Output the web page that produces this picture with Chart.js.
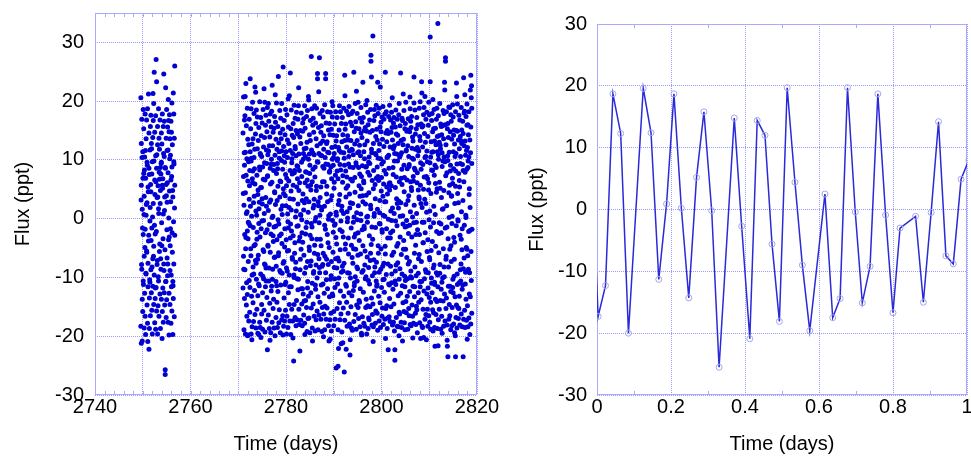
<!DOCTYPE html>
<html>
<head>
<meta charset="utf-8">
<script src="https://cdn.jsdelivr.net/npm/chart.js@4.4.0/dist/chart.umd.min.js"></script>
<style>
  body { margin: 0; background: #fff; }
  #wrap { position: relative; width: 971px; height: 457px; overflow: hidden; }
  canvas { position: absolute; top: 0; }
  #lightCurve { left: 0; }
  #dayCurve { left: 510px; }
</style>
</head>
<body>
<div id="wrap">
  <canvas id="lightCurve" width="510" height="457"></canvas>
  <canvas id="dayCurve" width="461" height="457"></canvas>
</div>
<script>
// first run (left panel, first block of points)
const timeA = [
  2749.6,2749.6,2749.7,2749.7,2749.7,2749.8,2749.8,2749.9,2749.9,2749.9,
  2750,2750,2750.1,2750.1,2750.1,2750.2,2750.2,2750.3,2750.3,2750.3,
  2750.4,2750.4,2750.5,2750.5,2750.5,2750.6,2750.6,2750.7,2750.7,2750.7,
  2750.8,2750.8,2750.9,2750.9,2750.9,2751,2751,2751.1,2751.1,2751.1,
  2751.2,2751.2,2751.3,2751.3,2751.3,2751.4,2751.4,2751.5,2751.5,2751.5,
  2751.6,2751.6,2751.7,2751.7,2751.7,2751.8,2751.8,2751.9,2751.9,2751.9,
  2752,2752,2752.1,2752.1,2752.1,2752.2,2752.2,2752.3,2752.3,2752.3,
  2752.4,2752.4,2752.5,2752.5,2752.5,2752.6,2752.6,2752.7,2752.7,2752.7,
  2752.8,2752.8,2752.9,2752.9,2752.9,2753,2753,2753.1,2753.1,2753.1,
  2753.2,2753.2,2753.3,2753.3,2753.3,2753.4,2753.4,2753.5,2753.5,2753.5,
  2753.6,2753.6,2753.7,2753.7,2753.7,2753.8,2753.8,2753.9,2753.9,2753.9,
  2754,2754,2754.1,2754.1,2754.1,2754.2,2754.2,2754.3,2754.3,2754.3,
  2754.4,2754.4,2754.5,2754.5,2754.5,2754.6,2754.6,2754.7,2754.7,2754.7,
  2754.8,2754.8,2754.9,2754.9,2754.9,2755,2755,2755.1,2755.1,2755.1,
  2755.2,2755.2,2755.3,2755.3,2755.3,2755.4,2755.4,2755.5,2755.5,2755.5,
  2755.6,2755.6,2755.7,2755.7,2755.7,2755.8,2755.8,2755.9,2755.9,2755.9,
  2756,2756,2756.1,2756.1,2756.1,2756.2,2756.2,2756.3,2756.3,2756.3,
  2756.4,2756.4,2756.5,2756.5,2756.5,2756.6,2756.6,2756.7,2756.7,2756.7
];
const fluxA = [
  20.6,-18.3,5.7,-21.2,12.8,-8.6,16.9,-20.8,1.6,-13.7,
  11.4,-15.8,18.6,-2.7,-10.6,7.7,15.3,-18.6,-6.4,3.8,
  -12.7,10.5,17.8,-16.6,-1.8,6.9,-19.7,13.6,-9.4,0.6,
  16.8,-5.5,-14.7,9.6,2.7,-17.8,18.7,-11.6,5.4,-7.6,
  -3.8,21.2,-22.2,14.6,8.6,-13.5,-18.7,11.7,-0.4,-10.8,
  15.7,-16.5,4.6,-8.7,17.6,-12.6,12.8,-1.6,-15.6,7.6,
  -19.6,9.7,13.8,-6.8,-11.5,16.7,2.6,-14.6,19.6,-4.7,
  24.9,-9.6,-17.7,6.6,14.7,-2.6,-13.6,10.7,17.5,-18.8,
  27.1,-11.7,23.3,8.6,-15.7,3.6,-7.8,15.7,-19.6,12.6,
  5.6,-14.8,18.7,-10.6,1.7,13.7,-16.6,-5.6,11.8,6.7,
  -12.8,16.8,8.7,-18.7,4.8,7.6,-8.6,14.6,-13.7,9.6,
  12.7,-4.6,-15.8,5.7,17.8,-11.8,6.8,-17.6,0.8,15.7,
  24.6,-7.7,10.6,-12.6,16.6,-14.7,3.7,-25.7,-26.5,8.7,
  22.3,-10.7,13.7,-16.8,5.8,18.6,-13.8,2.8,-6.7,11.6,
  -9.7,15.6,-17.6,7.8,11.7,-3.6,16.7,-12.7,14.8,-19.8,
  4.7,17.7,-8.8,13.6,-14.6,10.8,-1.7,6.6,-17.8,16.6,
  -11.6,14.7,8.8,-15.7,19.7,-5.7,12.6,-10.7,-19.7,3.7,
  21.4,-13.6,9.7,17.8,-7.7,13.7,-16.7,26.0,5.7,-2.8
];
// first run, in-between samples
const timeA2 = [
  2749.65,2749.75,2749.85,2749.95,2750.05,2750.15,2750.25,2750.35,2750.45,2750.55,
  2750.65,2750.75,2750.85,2750.95,2751.05,2751.15,2751.25,2751.35,2751.45,2751.55,
  2751.65,2751.75,2751.85,2751.95,2752.05,2752.15,2752.25,2752.35,2752.45,2752.55,
  2752.65,2752.75,2752.85,2752.95,2753.05,2753.15,2753.25,2753.35,2753.45,2753.55,
  2753.65,2753.75,2753.85,2753.95,2754.05,2754.15,2754.25,2754.35,2754.45,2754.55,
  2754.65,2754.75,2754.85,2754.95,2755.05,2755.15,2755.25,2755.35,2755.45,2755.55,
  2755.65,2755.75,2755.85,2755.95,2756.05,2756.15,2756.25,2756.35,2756.45,2756.55,
  2756.65
];
const fluxA2 = [
  3.2,-7.8,10.4,-1.6,6.9,-11.2,0.7,8.3,-4.9,11.6,
  -9.3,2.4,-5.7,9.1,-20.9,4.6,-2.8,7.5,-10.4,1.9,
  5.8,-3.7,11.9,-8.2,0.3,21.3,-6.4,9.8,-1.1,4.1,
  -11.8,6.3,-2.2,10.9,-7.1,3.7,-9.9,0.9,7.9,-4.3,
  2.6,-6.8,9.4,-0.7,-20.4,5.2,-3.4,11.1,-8.8,1.4,
  -5.3,8.6,-10.7,3.9,-1.9,6.1,-7.7,20.3,0.1,-3.1,
  10.2,-4.6,2.9,-9.6,7.2,-2.4,4.8,-11.4,-0.5,9.3,
  1.8
];

// second run (left panel, main block of points)
const timeB = [
  2771,2771,2771.1,2771.1,2771.1,2771.2,2771.2,2771.3,2771.3,2771.3,
  2771.4,2771.4,2771.5,2771.5,2771.5,2771.6,2771.6,2771.7,2771.7,2771.7,
  2771.8,2771.8,2771.9,2771.9,2771.9,2772,2772,2772.1,2772.1,2772.1,
  2772.2,2772.2,2772.3,2772.3,2772.3,2772.4,2772.4,2772.5,2772.5,2772.5,
  2772.6,2772.6,2772.7,2772.7,2772.7,2772.8,2772.8,2772.9,2772.9,2772.9,
  2773,2773,2773.1,2773.1,2773.1,2773.2,2773.2,2773.3,2773.3,2773.3,
  2773.4,2773.4,2773.5,2773.5,2773.5,2773.6,2773.6,2773.7,2773.7,2773.7,
  2773.8,2773.8,2773.9,2773.9,2773.9,2774,2774,2774.1,2774.1,2774.1,
  2774.2,2774.2,2774.3,2774.3,2774.3,2774.4,2774.4,2774.5,2774.5,2774.5,
  2774.6,2774.6,2774.7,2774.7,2774.7,2774.8,2774.8,2774.9,2774.9,2774.9,
  2775,2775,2775.1,2775.1,2775.1,2775.2,2775.2,2775.3,2775.3,2775.3,
  2775.4,2775.4,2775.5,2775.5,2775.5,2775.6,2775.6,2775.7,2775.7,2775.7,
  2775.8,2775.8,2775.9,2775.9,2775.9,2776,2776,2776.1,2776.1,2776.1,
  2776.2,2776.2,2776.3,2776.3,2776.3,2776.4,2776.4,2776.5,2776.5,2776.5,
  2776.6,2776.6,2776.7,2776.7,2776.7,2776.8,2776.8,2776.9,2776.9,2776.9,
  2777,2777,2777.1,2777.1,2777.1,2777.2,2777.2,2777.3,2777.3,2777.3,
  2777.4,2777.4,2777.5,2777.5,2777.5,2777.6,2777.6,2777.7,2777.7,2777.7,
  2777.8,2777.8,2777.9,2777.9,2777.9,2778,2778,2778.1,2778.1,2778.1,
  2778.2,2778.2,2778.3,2778.3,2778.3,2778.4,2778.4,2778.5,2778.5,2778.5,
  2778.6,2778.6,2778.7,2778.7,2778.7,2778.8,2778.8,2778.9,2778.9,2778.9,
  2779,2779,2779.1,2779.1,2779.1,2779.2,2779.2,2779.3,2779.3,2779.3,
  2779.4,2779.4,2779.5,2779.5,2779.5,2779.6,2779.6,2779.7,2779.7,2779.7,
  2779.8,2779.8,2779.9,2779.9,2779.9,2780,2780,2780.1,2780.1,2780.1,
  2780.2,2780.2,2780.3,2780.3,2780.3,2780.4,2780.4,2780.5,2780.5,2780.5,
  2780.6,2780.6,2780.7,2780.7,2780.7,2780.8,2780.8,2780.9,2780.9,2780.9,
  2781,2781,2781.1,2781.1,2781.1,2781.2,2781.2,2781.3,2781.3,2781.3,
  2781.4,2781.4,2781.5,2781.5,2781.5,2781.6,2781.6,2781.7,2781.7,2781.7,
  2781.8,2781.8,2781.9,2781.9,2781.9,2782,2782,2782.1,2782.1,2782.1,
  2782.2,2782.2,2782.3,2782.3,2782.3,2782.4,2782.4,2782.5,2782.5,2782.5,
  2782.6,2782.6,2782.7,2782.7,2782.7,2782.8,2782.8,2782.9,2782.9,2782.9,
  2783,2783,2783.1,2783.1,2783.1,2783.2,2783.2,2783.3,2783.3,2783.3,
  2783.4,2783.4,2783.5,2783.5,2783.5,2783.6,2783.6,2783.7,2783.7,2783.7,
  2783.8,2783.8,2783.9,2783.9,2783.9,2784,2784,2784.1,2784.1,2784.1,
  2784.2,2784.2,2784.3,2784.3,2784.3,2784.4,2784.4,2784.5,2784.5,2784.5,
  2784.6,2784.6,2784.7,2784.7,2784.7,2784.8,2784.8,2784.9,2784.9,2784.9,
  2785,2785,2785.1,2785.1,2785.1,2785.2,2785.2,2785.3,2785.3,2785.3,
  2785.4,2785.4,2785.5,2785.5,2785.5,2785.6,2785.6,2785.7,2785.7,2785.7,
  2785.8,2785.8,2785.9,2785.9,2785.9,2786,2786,2786.1,2786.1,2786.1,
  2786.2,2786.2,2786.3,2786.3,2786.3,2786.4,2786.4,2786.5,2786.5,2786.5,
  2786.6,2786.6,2786.7,2786.7,2786.7,2786.8,2786.8,2786.9,2786.9,2786.9,
  2787,2787,2787.1,2787.1,2787.1,2787.2,2787.2,2787.3,2787.3,2787.3,
  2787.4,2787.4,2787.5,2787.5,2787.5,2787.6,2787.6,2787.7,2787.7,2787.7,
  2787.8,2787.8,2787.9,2787.9,2787.9,2788,2788,2788.1,2788.1,2788.1,
  2788.2,2788.2,2788.3,2788.3,2788.3,2788.4,2788.4,2788.5,2788.5,2788.5,
  2788.6,2788.6,2788.7,2788.7,2788.7,2788.8,2788.8,2788.9,2788.9,2788.9,
  2789,2789,2789.1,2789.1,2789.1,2789.2,2789.2,2789.3,2789.3,2789.3,
  2789.4,2789.4,2789.5,2789.5,2789.5,2789.6,2789.6,2789.7,2789.7,2789.7,
  2789.8,2789.8,2789.9,2789.9,2789.9,2790,2790,2790.1,2790.1,2790.1,
  2790.2,2790.2,2790.3,2790.3,2790.3,2790.4,2790.4,2790.5,2790.5,2790.5,
  2790.6,2790.6,2790.7,2790.7,2790.7,2790.8,2790.8,2790.9,2790.9,2790.9,
  2791,2791,2791.1,2791.1,2791.1,2791.2,2791.2,2791.3,2791.3,2791.3,
  2791.4,2791.4,2791.5,2791.5,2791.5,2791.6,2791.6,2791.7,2791.7,2791.7,
  2791.8,2791.8,2791.9,2791.9,2791.9,2792,2792,2792.1,2792.1,2792.1,
  2792.2,2792.2,2792.3,2792.3,2792.3,2792.4,2792.4,2792.5,2792.5,2792.5,
  2792.6,2792.6,2792.7,2792.7,2792.7,2792.8,2792.8,2792.9,2792.9,2792.9,
  2793,2793,2793.1,2793.1,2793.1,2793.2,2793.2,2793.3,2793.3,2793.3,
  2793.4,2793.4,2793.5,2793.5,2793.5,2793.6,2793.6,2793.7,2793.7,2793.7,
  2793.8,2793.8,2793.9,2793.9,2793.9,2794,2794,2794.1,2794.1,2794.1,
  2794.2,2794.2,2794.3,2794.3,2794.3,2794.4,2794.4,2794.5,2794.5,2794.5,
  2794.6,2794.6,2794.7,2794.7,2794.7,2794.8,2794.8,2794.9,2794.9,2794.9,
  2795,2795,2795.1,2795.1,2795.1,2795.2,2795.2,2795.3,2795.3,2795.3,
  2795.4,2795.4,2795.5,2795.5,2795.5,2795.6,2795.6,2795.7,2795.7,2795.7,
  2795.8,2795.8,2795.9,2795.9,2795.9,2796,2796,2796.1,2796.1,2796.1,
  2796.2,2796.2,2796.3,2796.3,2796.3,2796.4,2796.4,2796.5,2796.5,2796.5,
  2796.6,2796.6,2796.7,2796.7,2796.7,2796.8,2796.8,2796.9,2796.9,2796.9,
  2797,2797,2797.1,2797.1,2797.1,2797.2,2797.2,2797.3,2797.3,2797.3,
  2797.4,2797.4,2797.5,2797.5,2797.5,2797.6,2797.6,2797.7,2797.7,2797.7,
  2797.8,2797.8,2797.9,2797.9,2797.9,2798,2798,2798.1,2798.1,2798.1,
  2798.2,2798.2,2798.3,2798.3,2798.3,2798.4,2798.4,2798.5,2798.5,2798.5,
  2798.6,2798.6,2798.7,2798.7,2798.7,2798.8,2798.8,2798.9,2798.9,2798.9,
  2799,2799,2799.1,2799.1,2799.1,2799.2,2799.2,2799.3,2799.3,2799.3,
  2799.4,2799.4,2799.5,2799.5,2799.5,2799.6,2799.6,2799.7,2799.7,2799.7,
  2799.8,2799.8,2799.9,2799.9,2799.9,2800,2800,2800.1,2800.1,2800.1,
  2800.2,2800.2,2800.3,2800.3,2800.3,2800.4,2800.4,2800.5,2800.5,2800.5,
  2800.6,2800.6,2800.7,2800.7,2800.7,2800.8,2800.8,2800.9,2800.9,2800.9,
  2801,2801,2801.1,2801.1,2801.1,2801.2,2801.2,2801.3,2801.3,2801.3,
  2801.4,2801.4,2801.5,2801.5,2801.5,2801.6,2801.6,2801.7,2801.7,2801.7,
  2801.8,2801.8,2801.9,2801.9,2801.9,2802,2802,2802.1,2802.1,2802.1,
  2802.2,2802.2,2802.3,2802.3,2802.3,2802.4,2802.4,2802.5,2802.5,2802.5,
  2802.6,2802.6,2802.7,2802.7,2802.7,2802.8,2802.8,2802.9,2802.9,2802.9,
  2803,2803,2803.1,2803.1,2803.1,2803.2,2803.2,2803.3,2803.3,2803.3,
  2803.4,2803.4,2803.5,2803.5,2803.5,2803.6,2803.6,2803.7,2803.7,2803.7,
  2803.8,2803.8,2803.9,2803.9,2803.9,2804,2804,2804.1,2804.1,2804.1,
  2804.2,2804.2,2804.3,2804.3,2804.3,2804.4,2804.4,2804.5,2804.5,2804.5,
  2804.6,2804.6,2804.7,2804.7,2804.7,2804.8,2804.8,2804.9,2804.9,2804.9,
  2805,2805,2805.1,2805.1,2805.1,2805.2,2805.2,2805.3,2805.3,2805.3,
  2805.4,2805.4,2805.5,2805.5,2805.5,2805.6,2805.6,2805.7,2805.7,2805.7,
  2805.8,2805.8,2805.9,2805.9,2805.9,2806,2806,2806.1,2806.1,2806.1,
  2806.2,2806.2,2806.3,2806.3,2806.3,2806.4,2806.4,2806.5,2806.5,2806.5,
  2806.6,2806.6,2806.7,2806.7,2806.7,2806.8,2806.8,2806.9,2806.9,2806.9,
  2807,2807,2807.1,2807.1,2807.1,2807.2,2807.2,2807.3,2807.3,2807.3,
  2807.4,2807.4,2807.5,2807.5,2807.5,2807.6,2807.6,2807.7,2807.7,2807.7,
  2807.8,2807.8,2807.9,2807.9,2807.9,2808,2808,2808.1,2808.1,2808.1,
  2808.2,2808.2,2808.3,2808.3,2808.3,2808.4,2808.4,2808.5,2808.5,2808.5,
  2808.6,2808.6,2808.7,2808.7,2808.7,2808.8,2808.8,2808.9,2808.9,2808.9,
  2809,2809,2809.1,2809.1,2809.1,2809.2,2809.2,2809.3,2809.3,2809.3,
  2809.4,2809.4,2809.5,2809.5,2809.5,2809.6,2809.6,2809.7,2809.7,2809.7,
  2809.8,2809.8,2809.9,2809.9,2809.9,2810,2810,2810.1,2810.1,2810.1,
  2810.2,2810.2,2810.3,2810.3,2810.3,2810.4,2810.4,2810.5,2810.5,2810.5,
  2810.6,2810.6,2810.7,2810.7,2810.7,2810.8,2810.8,2810.9,2810.9,2810.9,
  2811,2811,2811.1,2811.1,2811.1,2811.2,2811.2,2811.3,2811.3,2811.3,
  2811.4,2811.4,2811.5,2811.5,2811.5,2811.6,2811.6,2811.7,2811.7,2811.7,
  2811.8,2811.8,2811.9,2811.9,2811.9,2812,2812,2812.1,2812.1,2812.1,
  2812.2,2812.2,2812.3,2812.3,2812.3,2812.4,2812.4,2812.5,2812.5,2812.5,
  2812.6,2812.6,2812.7,2812.7,2812.7,2812.8,2812.8,2812.9,2812.9,2812.9,
  2813,2813,2813.1,2813.1,2813.1,2813.2,2813.2,2813.3,2813.3,2813.3,
  2813.4,2813.4,2813.5,2813.5,2813.5,2813.6,2813.6,2813.7,2813.7,2813.7,
  2813.8,2813.8,2813.9,2813.9,2813.9,2814,2814,2814.1,2814.1,2814.1,
  2814.2,2814.2,2814.3,2814.3,2814.3,2814.4,2814.4,2814.5,2814.5,2814.5,
  2814.6,2814.6,2814.7,2814.7,2814.7,2814.8,2814.8,2814.9,2814.9,2814.9,
  2815,2815,2815.1,2815.1,2815.1,2815.2,2815.2,2815.3,2815.3,2815.3,
  2815.4,2815.4,2815.5,2815.5,2815.5,2815.6,2815.6,2815.7,2815.7,2815.7,
  2815.8,2815.8,2815.9,2815.9,2815.9,2816,2816,2816.1,2816.1,2816.1,
  2816.2,2816.2,2816.3,2816.3,2816.3,2816.4,2816.4,2816.5,2816.5,2816.5,
  2816.6,2816.6,2816.7,2816.7,2816.7,2816.8,2816.8,2816.9,2816.9,2816.9,
  2817,2817,2817.1,2817.1,2817.1,2817.2,2817.2,2817.3,2817.3,2817.3,
  2817.4,2817.4,2817.5,2817.5,2817.5,2817.6,2817.6,2817.7,2817.7,2817.7,
  2817.8,2817.8,2817.9,2817.9,2817.9,2818,2818,2818.1,2818.1,2818.1,
  2818.2,2818.2,2818.3,2818.3,2818.3,2818.4,2818.4,2818.5,2818.5,2818.5,
  2818.6,2818.6,2818.7,2818.7,2818.7,2818.8,2818.8,2818.9,2818.9,2818.9
];
const fluxB = [
  14.6,-11.8,20.7,-6.4,7.2,-18.9,2.3,16.8,-13.6,9.1,
  -8.7,17.5,11.3,-19.6,4.4,23.0,-3.2,-14.7,15.8,0.9,
  10.2,-16.6,18.8,-2.1,-12.9,6.4,13.5,-19.8,-0.6,-7.3,
  -17.4,12.6,3.3,16.9,-10.5,8.2,-15.9,23.8,-1.2,11.4,
  15.3,-5.1,-19.6,9.8,18.7,-13.2,0.4,-18.4,12.7,-9.6,
  6.1,19.8,-14.3,-8.2,13.6,2.7,-17.5,10.4,17.9,-4.6,
  -12.2,8.5,22.4,-16.3,5.9,14.4,-7.1,-18.6,1.3,16.2,
  18.5,-10.3,7.4,-3.5,-15.4,11.9,17.3,-19.5,4.1,-13.1,
  -6.2,13.3,-19.7,15.5,-0.8,-11.4,2.8,-17.6,19.9,8.3,
  11.1,-18.5,5.3,17.2,-9.4,-1.7,14.1,-14.6,10.6,-16.2,
  3.4,16.3,-12.6,8.8,-18.8,18.6,-5.3,12.2,-10.2,-0.3,
  -15.6,22.1,9.5,-7.7,13.8,-19.3,6.6,15.9,-2.4,-11.6,
  17.6,-8.4,2.1,-17.3,11.7,14.8,-13.4,-22.3,7.2,18.9,
  -4.5,10.9,-16.4,19.6,1.4,-10.6,16.6,-18.7,12.4,-1.0,
  13.9,-14.4,8.6,-5.7,17.8,3.2,-19.4,9.3,-12.3,15.6,
  -11.5,18.3,22.7,-17.6,0.2,12.4,-8.6,-15.3,14.7,-2.9,
  8.2,-13.7,15.4,-1.4,-18.6,17.4,4.6,-19.9,10.8,-6.5,
  16.4,2.4,-10.7,13.5,-16.8,7.7,19.7,-14.2,-3.6,11.8,
  -18.5,9.4,5.5,-12.4,15.7,24.2,-6.3,12.9,-17.7,-0.9,
  10.3,-15.5,18.4,3.7,-8.8,-19.4,14.6,6.3,-11.3,17.1,
  -2.6,13.6,-17.2,11.5,19.6,-9.3,0.7,-16.5,8.4,15.2,
  25.8,-7.6,12.3,-18.3,4.3,16.7,-13.5,9.6,-4.8,-17.4,
  14.3,-11.2,7.5,18.6,-15.6,2.2,11.4,-19.6,-8.4,5.6,
  -16.6,17.7,10.4,-5.5,13.4,-18.5,-0.5,15.6,-1.6,-12.6,
  6.4,12.8,-14.6,20.9,-9.6,3.4,-17.4,24.8,11.6,-3.3,
  -19.7,15.3,1.5,-11.6,18.5,9.5,-15.4,7.6,-6.6,14.2,
  11.1,-17.4,16.2,-2.9,5.7,-24.2,13.8,-10.0,19.3,-14.6,
  -5.9,8.2,17.1,-16.8,12.3,-8.5,0.3,15.0,-18.2,10.7,
  18.1,-13.9,-1.3,9.0,-17.2,14.4,6.8,-12.1,2.5,16.9,
  -10.3,19.2,11.0,-15.4,4.8,8.2,-18.0,-22.5,13.9,-3.1,
  15.0,-6.9,-17.3,12.8,0.6,18.0,-11.9,7.2,-14.5,-0.2,
  3.1,-18.2,14.9,-4.0,16.3,-12.8,10.1,-16.4,17.0,1.5,
  -14.0,11.9,19.2,-9.3,-17.8,6.1,15.4,-2.6,8.0,-13.9,
  12.0,-1.5,-15.1,17.4,7.9,-19.2,13.0,-7.3,-11.8,18.4,
  -17.0,5.5,10.1,-13.2,20.8,2.9,-16.9,14.3,-5.4,11.0,
  9.1,-19.4,16.7,-8.0,13.3,-12.6,4.9,27.6,-15.2,-0.8,
  -3.4,18.7,-11.0,6.3,-18.6,15.9,11.2,-14.5,1.8,17.1,
  14.7,-9.0,3.3,-16.6,10.9,19.2,-4.5,8.8,-19.1,-0.4,
  -12.0,16.3,13.6,-7.9,-17.2,5.5,18.8,-10.1,12.4,-15.7,
  24.7,23.8,-13.3,9.6,-18.9,2.2,15.5,-6.8,11.1,-16.4,
  27.4,-8.3,0.6,17.9,-14.2,-3.5,12.8,-17.1,5.4,14.7,
  -11.3,15.8,-19.2,10.7,1.9,18.4,-15.1,13.2,-7.8,8.9,
  17.3,-5.9,11.8,-16.2,14.1,-12.7,6.3,-18.9,19.4,-1.1,
  10.4,-14.9,24.7,23.8,-9.2,16.3,-17.1,4.2,12.8,-6.9,
  -15.2,13.1,2.9,-11.9,18.2,-4.1,9.2,-18.2,15.1,-0.1,
  -20.8,11.2,16.2,-13.3,7.9,-17.2,14.3,0.8,-10.3,18.1,
  8.8,-16.1,-7.3,15.2,-19.1,12.1,3.9,17.3,-12.8,10.1,
  -13.1,19.2,9.1,-2.3,14.2,-15.8,-18.2,11.1,6.2,-8.3,
  16.1,-10.2,-0.9,-17.1,12.3,18.2,-6.8,-25.4,1.1,13.2,
  -4.3,14.1,-15.3,8.1,17.2,-11.1,10.2,-25.1,-18.9,6.8,
  12.1,-22.1,15.1,-7.2,3.1,19.2,-14.3,9.2,-17.2,-1.9,
  18.2,-12.3,-16.2,11.3,-0.4,-9.1,16.2,-19.3,13.1,2.1,
  -8.1,17.2,7.3,-21.1,14.3,-3.1,-15.2,11.2,18.8,-13.2,
  -26.1,10.3,24.4,13.3,-17.3,15.2,-5.2,-11.2,8.1,16.1,
  5.2,-22.2,12.2,-14.2,18.3,1.2,-18.3,14.1,-9.2,0.1,
  -16.1,13.4,17.7,-6.0,9.3,-12.6,19.1,-17.9,4.2,11.5,
  -23.2,8.8,-10.1,16.4,2.7,-15.0,13.3,-18.6,17.9,-4.5,
  15.8,-13.1,6.4,11.7,-19.0,18.3,-7.6,10.9,-12.2,-0.6,
  24.9,-17.5,14.8,-3.1,-11.4,12.7,7.0,-16.3,19.6,-9.9,
  -5.2,16.5,-18.8,9.1,15.4,-14.7,1.0,13.3,-10.6,17.9,
  11.2,-8.5,19.8,-15.1,-2.4,8.7,-17.0,15.3,5.6,-13.9,
  -14.2,12.5,3.8,17.1,-18.4,10.7,-6.0,-0.3,14.6,18.9,
  7.2,-19.5,13.8,-9.1,16.4,-16.7,9.0,23.2,-4.6,2.9,
  17.2,-12.5,-17.8,6.1,11.4,-1.7,15.0,-18.3,12.6,-7.9,
  -10.2,15.5,8.8,-15.1,19.4,-13.7,4.0,0.3,-19.6,14.9,
  13.2,-6.5,-14.8,18.1,0.4,-18.7,16.0,-8.3,9.6,-16.9,
  -17.2,10.5,16.8,-11.1,7.4,14.7,-15.0,2.3,18.6,-5.9,
  27.8,26.8,24.1,-13.5,11.8,-18.1,-1.4,-9.7,15.0,-16.3,
  31.1,-14.5,12.8,5.1,-18.4,16.7,-7.0,-12.3,18.6,0.9,
  -8.2,17.5,-17.8,11.1,3.4,-15.7,14.0,19.3,-10.6,6.9,
  15.2,-11.5,8.8,-16.1,13.4,23.2,-19.0,10.3,-4.6,17.9,
  -13.2,6.5,18.8,-9.1,-17.4,12.7,1.0,-14.3,15.6,-0.9,
  10.2,-18.5,14.8,-5.1,16.4,-11.7,7.0,17.3,-16.6,-1.9,
  -15.2,13.5,3.8,19.1,-10.4,9.7,-18.0,12.3,-7.6,16.9,
  8.2,-12.5,17.8,-17.1,0.4,24.9,-6.0,-15.3,14.6,2.9,
  18.2,-9.5,-14.8,13.1,5.4,-18.7,15.0,-3.3,10.6,-16.9,
  -22.3,14.5,10.8,-11.1,17.4,-16.7,6.0,19.3,-13.6,4.9,
  12.2,-17.5,16.8,-8.1,-2.4,14.7,-15.0,-0.3,18.1,-10.9,
  -6.2,15.5,1.8,-18.1,13.4,8.7,-12.0,16.3,-17.6,11.9,
  17.2,-14.5,9.8,-19.1,12.4,-24.1,-22.3,5.3,15.6,-8.9,
  -11.2,18.5,-16.8,7.1,14.4,-4.7,11.0,-18.3,2.6,16.9,
  14.2,-7.5,12.8,-13.1,-18.4,17.7,3.0,-10.3,19.6,-15.9,
  -16.2,10.5,15.8,-3.1,0.4,-12.7,24.8,13.3,-17.6,6.9,
  11.2,-18.5,5.8,17.1,-9.4,16.7,-20.8,-14.3,12.6,-0.9,
  -5.2,13.5,-15.8,9.1,18.4,-17.7,7.0,15.3,-11.6,-18.9,
  16.2,-10.5,19.8,-14.1,2.4,11.7,-16.0,-1.3,-6.6,14.9,
  -13.2,8.5,-18.8,15.1,12.4,-7.7,17.0,-15.3,10.6,3.9,
  9.2,-16.5,14.8,-1.1,-12.4,18.7,-18.0,6.3,16.6,-9.9,
  -18.2,15.5,4.8,-10.1,17.4,-14.7,12.0,0.3,-16.6,13.9,
  13.2,-11.5,-17.8,10.1,6.4,19.7,24.1,-13.3,8.6,-5.9,
  -8.2,18.5,11.8,-16.1,14.4,-2.7,-18.0,15.3,-0.6,-14.9,
  17.2,-15.5,7.8,12.1,-19.4,10.7,16.0,-9.3,-12.6,4.9,
  -14.2,11.5,18.8,-6.1,3.4,-17.7,14.0,13.3,-11.6,19.9,
  -20.4,9.5,-13.8,16.1,8.4,-10.7,23.3,-18.3,15.6,1.9,
  12.2,-18.5,15.8,-4.1,-15.4,17.7,5.0,-12.3,-0.6,18.9,
  -10.2,14.5,20.8,-17.1,10.4,-8.7,13.0,-16.3,2.6,16.9,
  7.2,-20.6,11.5,-12.8,18.1,-15.4,9.7,14.0,-18.3,-3.6,
  15.9,-9.2,-16.5,19.8,6.1,-13.4,17.7,-7.0,1.3,-17.6,
  30.9,23.3,-14.2,10.5,-18.8,13.1,-5.4,16.7,-11.0,8.3,
  -12.6,17.9,8.2,-15.5,14.8,-19.1,11.4,-0.7,-16.0,15.3,
  18.6,-7.9,13.2,-18.5,-10.8,9.1,-21.7,15.4,-13.7,6.0,
  -16.3,12.6,16.9,-9.2,4.5,18.8,-14.1,11.4,-18.7,14.0,
  33.2,-11.6,10.9,-17.2,17.5,-5.8,14.1,-15.4,-0.7,13.0,
  -9.3,19.6,-13.9,5.2,12.5,-18.8,16.1,-2.4,15.7,-12.0,
  14.3,-16.6,8.9,11.2,-19.5,15.8,-10.1,18.4,1.7,-14.0,
  -18.3,13.6,17.9,-8.2,10.5,-12.8,23.2,-17.4,9.7,16.0,
  27.4,26.8,-15.3,12.6,-6.9,18.2,-13.5,7.8,-18.1,-1.4,
  -21.7,15.3,-23.5,9.9,16.2,-11.5,13.8,-17.1,4.4,19.0,
  11.3,-14.6,18.9,-5.2,-16.5,14.8,8.1,-12.4,17.7,-18.9,
  -7.3,16.6,3.9,-18.2,13.5,0.4,-15.1,19.4,-11.7,6.0,
  17.3,-12.6,-17.9,14.2,8.5,-9.8,15.1,-19.4,12.7,-4.0,
  -13.3,10.6,-23.5,18.2,5.5,-16.8,11.1,23.1,-14.7,15.0,
  9.3,-18.6,14.9,-11.2,19.5,-0.2,-15.1,13.4,2.7,-17.0,
  -15.3,17.6,11.9,-13.2,6.5,16.8,-18.1,9.4,-8.7,14.0,
  13.3,-10.6,18.9,-16.2,-3.5,12.8,15.1,-18.4,-1.7,-12.0,
  -11.3,16.6,-23.5,8.2,14.5,24.0,-17.1,12.4,-6.7,18.0,
  18.3,-15.6,7.9,13.2,-18.5,10.8,-9.1,17.4,-13.7,0.2,
  -17.3,11.6,15.9,-5.2,19.5,-14.8,12.1,-18.4,8.7,16.0,
  14.3,-8.6,-16.9,18.2,10.5,-12.8,5.1,13.4,-19.7,-2.0,
  21.9,-13.3,24.4,15.6,-17.9,20.6,-10.5,18.8,-16.1,9.4
];
// second run, in-between samples
const timeB2 = [
  2771.05,2771.15,2771.25,2771.35,2771.45,2771.55,2771.65,2771.75,2771.85,2771.95,
  2772.05,2772.15,2772.25,2772.35,2772.45,2772.55,2772.65,2772.75,2772.85,2772.95,
  2773.05,2773.15,2773.25,2773.35,2773.45,2773.55,2773.65,2773.75,2773.85,2773.95,
  2774.05,2774.15,2774.25,2774.35,2774.45,2774.55,2774.65,2774.75,2774.85,2774.95,
  2775.05,2775.15,2775.25,2775.35,2775.45,2775.55,2775.65,2775.75,2775.85,2775.95,
  2776.05,2776.15,2776.25,2776.35,2776.45,2776.55,2776.65,2776.75,2776.85,2776.95,
  2777.05,2777.15,2777.25,2777.35,2777.45,2777.55,2777.65,2777.75,2777.85,2777.95,
  2778.05,2778.15,2778.25,2778.35,2778.45,2778.55,2778.65,2778.75,2778.85,2778.95,
  2779.05,2779.15,2779.25,2779.35,2779.45,2779.55,2779.65,2779.75,2779.85,2779.95,
  2780.05,2780.15,2780.25,2780.35,2780.45,2780.55,2780.65,2780.75,2780.85,2780.95,
  2781.05,2781.15,2781.25,2781.35,2781.45,2781.55,2781.65,2781.75,2781.85,2781.95,
  2782.05,2782.15,2782.25,2782.35,2782.45,2782.55,2782.65,2782.75,2782.85,2782.95,
  2783.05,2783.15,2783.25,2783.35,2783.45,2783.55,2783.65,2783.75,2783.85,2783.95,
  2784.05,2784.15,2784.25,2784.35,2784.45,2784.55,2784.65,2784.75,2784.85,2784.95,
  2785.05,2785.15,2785.25,2785.35,2785.45,2785.55,2785.65,2785.75,2785.85,2785.95,
  2786.05,2786.15,2786.25,2786.35,2786.45,2786.55,2786.65,2786.75,2786.85,2786.95,
  2787.05,2787.15,2787.25,2787.35,2787.45,2787.55,2787.65,2787.75,2787.85,2787.95,
  2788.05,2788.15,2788.25,2788.35,2788.45,2788.55,2788.65,2788.75,2788.85,2788.95,
  2789.05,2789.15,2789.25,2789.35,2789.45,2789.55,2789.65,2789.75,2789.85,2789.95,
  2790.05,2790.15,2790.25,2790.35,2790.45,2790.55,2790.65,2790.75,2790.85,2790.95,
  2791.05,2791.15,2791.25,2791.35,2791.45,2791.55,2791.65,2791.75,2791.85,2791.95,
  2792.05,2792.15,2792.25,2792.35,2792.45,2792.55,2792.65,2792.75,2792.85,2792.95,
  2793.05,2793.15,2793.25,2793.35,2793.45,2793.55,2793.65,2793.75,2793.85,2793.95,
  2794.05,2794.15,2794.25,2794.35,2794.45,2794.55,2794.65,2794.75,2794.85,2794.95,
  2795.05,2795.15,2795.25,2795.35,2795.45,2795.55,2795.65,2795.75,2795.85,2795.95,
  2796.05,2796.15,2796.25,2796.35,2796.45,2796.55,2796.65,2796.75,2796.85,2796.95,
  2797.05,2797.15,2797.25,2797.35,2797.45,2797.55,2797.65,2797.75,2797.85,2797.95,
  2798.05,2798.15,2798.25,2798.35,2798.45,2798.55,2798.65,2798.75,2798.85,2798.95,
  2799.05,2799.15,2799.25,2799.35,2799.45,2799.55,2799.65,2799.75,2799.85,2799.95,
  2800.05,2800.15,2800.25,2800.35,2800.45,2800.55,2800.65,2800.75,2800.85,2800.95,
  2801.05,2801.15,2801.25,2801.35,2801.45,2801.55,2801.65,2801.75,2801.85,2801.95,
  2802.05,2802.15,2802.25,2802.35,2802.45,2802.55,2802.65,2802.75,2802.85,2802.95,
  2803.05,2803.15,2803.25,2803.35,2803.45,2803.55,2803.65,2803.75,2803.85,2803.95,
  2804.05,2804.15,2804.25,2804.35,2804.45,2804.55,2804.65,2804.75,2804.85,2804.95,
  2805.05,2805.15,2805.25,2805.35,2805.45,2805.55,2805.65,2805.75,2805.85,2805.95,
  2806.05,2806.15,2806.25,2806.35,2806.45,2806.55,2806.65,2806.75,2806.85,2806.95,
  2807.05,2807.15,2807.25,2807.35,2807.45,2807.55,2807.65,2807.75,2807.85,2807.95,
  2808.05,2808.15,2808.25,2808.35,2808.45,2808.55,2808.65,2808.75,2808.85,2808.95,
  2809.05,2809.15,2809.25,2809.35,2809.45,2809.55,2809.65,2809.75,2809.85,2809.95,
  2810.05,2810.15,2810.25,2810.35,2810.45,2810.55,2810.65,2810.75,2810.85,2810.95,
  2811.05,2811.15,2811.25,2811.35,2811.45,2811.55,2811.65,2811.75,2811.85,2811.95,
  2812.05,2812.15,2812.25,2812.35,2812.45,2812.55,2812.65,2812.75,2812.85,2812.95,
  2813.05,2813.15,2813.25,2813.35,2813.45,2813.55,2813.65,2813.75,2813.85,2813.95,
  2814.05,2814.15,2814.25,2814.35,2814.45,2814.55,2814.65,2814.75,2814.85,2814.95,
  2815.05,2815.15,2815.25,2815.35,2815.45,2815.55,2815.65,2815.75,2815.85,2815.95,
  2816.05,2816.15,2816.25,2816.35,2816.45,2816.55,2816.65,2816.75,2816.85,2816.95,
  2817.05,2817.15,2817.25,2817.35,2817.45,2817.55,2817.65,2817.75,2817.85,2817.95,
  2818.05,2818.15,2818.25,2818.35,2818.45,2818.55,2818.65,2818.75,2818.85,2818.95
];
const fluxB2 = [
  4.3,-8.6,11.2,-2.7,20.8,-5.1,7.4,-10.9,1.2,-19.9,
  -3.4,9.7,-0.8,5.6,-11.7,2.1,-6.3,10.3,-20.6,6.8,
  8.1,-1.5,-9.4,3.8,11.8,-4.4,21.5,-7.6,0.6,-2.3,
  -6.9,4.9,-11.1,1.7,8.8,-3.1,10.9,-20.2,5.3,-0.4,
  2.5,-9.8,6.7,-5.6,0.9,19.8,-7.9,3.6,-10.6,9.4,
  -1.9,7.3,-4.7,11.5,-8.4,2.8,-20.7,5.9,-2.6,10.1,
  6.2,-10.3,0.4,-3.9,9.2,-6.6,4.4,21.1,-1.3,-8.1,
  -11.4,3.1,8.5,-0.2,-5.8,11.4,-2.9,6.4,-9.1,1.6,
  9.9,-4.2,2.2,-19.8,5.1,-7.3,10.7,-1.7,3.9,-10.8,
  -3.6,6.9,-8.9,0.8,20.4,-5.4,1.9,-11.6,8.2,-0.9,
  4.7,-2.1,10.2,-6.9,-20.3,3.3,-9.6,7.8,-4.1,11.9,
  -7.4,1.3,5.4,-10.2,8.9,-1.2,22.3,-3.8,6.1,-8.7,
  0.7,-5.2,9.6,-2.4,-11.9,4.2,11.1,-6.2,2.7,-19.7,
  10.6,-8.3,3.4,-0.6,6.6,-10.7,1.1,20.2,-4.8,7.7,
  -2.8,5.7,-7.2,11.7,-1.4,-20.8,8.4,-9.3,2.3,-5.9,
  7.1,-11.3,0.2,4.8,-3.5,9.7,-6.1,2.9,21.6,-0.7,
  -9.2,3.6,10.8,-4.6,1.5,-8.1,6.3,-11.1,-20.1,8.6,
  2.1,-6.4,-1.8,9.3,-10.4,5.5,-2.7,11.3,-7.8,0.5,
  -4.9,8.1,-20.5,3.2,-9.7,6.8,19.9,-0.3,-5.7,10.4,
  5.2,-1.1,-11.7,7.4,-3.2,0.6,-8.4,9.9,-6.7,2.4,
  -10.1,11.6,4.1,-5.3,8.3,-21.3,1.4,-2.2,6.2,-8.9,
  0.9,-7.6,9.1,20.9,-4.3,3.7,-11.5,7.1,-0.5,5.6,
  -3.3,10.6,-9.3,1.8,-20.6,6.7,-1.6,11.8,-6.6,2.6,
  8.7,-5.1,0.3,-10.9,4.5,-2.6,9.5,21.7,-8.2,-0.2,
  -6.2,2.2,11.4,-3.7,7.6,-11.9,0.8,5.1,-19.8,-1.9,
  3.9,-8.8,6.4,-1.3,10.2,-5.5,2.5,-9.9,8.9,20.1,
  -0.6,7.9,-10.5,4.4,-2.9,9.4,-7.1,1.7,-4.4,11.2,
  6.5,-3.5,-20.9,8.2,0.4,-9.2,5.8,-1.5,10.9,-7.4,
  -11.2,1.6,7.2,-5.9,11.6,-0.8,3.1,22.4,-8.6,4.7,
  9.3,-2.3,-8.1,0.6,5.9,-10.3,2.9,-4.7,-20.4,7.6,
  -1.7,10.4,4.2,-7.7,-0.1,8.6,-11.3,6.1,-3.3,1.3,
  5.6,-9.4,20.6,-2.1,7.5,-5.7,0.9,11.1,-10.6,-0.4,
  -7.9,3.4,-1.2,9.8,-4.2,1.8,-19.9,6.3,-8.5,10.8,
  2.7,-6.1,8.4,-11.4,0.5,21.2,-3.7,4.6,-9.8,-1.4,
  -5.2,11.5,-0.3,6.6,-10.2,3.1,-2.5,8.9,-7.3,20.7,
  1.2,-8.9,5.3,-3.1,10.3,-20.3,7.2,-0.7,2.3,-11.6,
  8.3,-4.5,-9.7,0.9,6.1,-1.9,11.7,-6.8,3.7,-2.7,
  -10.7,5.7,2.6,-7.3,21.4,-0.6,9.2,-4.1,-20.2,7.1,
  3.3,-2.4,10.6,-9.1,1.1,-5.6,6.8,-11.8,4.9,-0.2,
  -6.6,9.5,-1.4,4.3,-10.1,11.3,-3.9,20.3,-8.4,2.1,
  7.4,-11.2,0.7,-4.7,8.7,-2.2,5.1,-9.6,-21.6,10.1,
  -2.5,6.2,-7.8,11.9,-0.9,3.6,-10.8,1.6,9.8,-5.1,
  4.8,-9.9,21.9,-1.6,7.3,-6.4,2.2,-20.7,10.7,-3.4,
  -8.2,0.2,5.7,-11.5,9.1,-4.6,3.8,-0.8,6.9,-10.3,
  11.4,-3.2,-6.9,2.6,-19.9,8.1,-1.2,20.8,-9.4,4.3,
  -0.4,7.7,-10.9,5.4,-2.8,10.6,-7.7,1.2,-5.3,9.2,
  3.1,-8.5,6.3,-1.1,21.1,-11.1,0.6,-4.9,8.4,-20.5,
  -6.3,9.8,-2.2,4.1,-9.2,1.9,11.2,-5.6,22.6,-1.8
];

// one day of data (right panel)
const dayTime = [
  -0.018,0.003,0.023,0.043,0.064,0.085,0.125,0.146,0.167,0.188,
  0.208,0.228,0.248,0.269,0.289,0.310,0.330,0.371,0.391,0.413,
  0.433,0.454,0.473,0.493,0.514,0.535,0.555,0.575,0.616,0.637,
  0.657,0.677,0.698,0.717,0.738,0.759,0.780,0.800,0.819,0.861,
  0.882,0.903,0.923,0.943,0.963,0.984,1.005
];
const dayFlux = [
  14,-17.3,-12.3,18.7,12.3,-20.0,19.6,12.4,-11.3,0.9,
  18.7,0.2,-14.3,5.2,15.8,-0.2,-25.5,14.8,-2.7,-20.9,
  14.4,12.0,-5.6,-18.1,19.7,4.4,-9.0,-19.6,2.5,-17.5,
  -14.4,19.7,-0.4,-15.1,-9.2,18.7,-0.9,-16.7,-3.0,-1.1,
  -15.0,-0.5,14.2,-7.5,-8.8,4.9,8.0
];

// tick labels
const leftTimeLabels = [2740, 2760, 2780, 2800, 2820];
const fluxTicksLeft = [-30, -20, -10, 0, 10, 20, 30];
const dayTimeLabels = [0, 0.2, 0.4, 0.6, 0.8, 1];

const FONT = '"Liberation Sans", Arial, Helvetica, sans-serif';
const gridBlue = '#9a9aff';
const frameBlue = '#a9a9ff';

// fixes an axis box size so the plot area lands where the original has it
function fixBox(size, horizontal) {
  return function (scale) {
    if (horizontal) scale.height = size; else scale.width = size;
    scale.paddingLeft = 0; scale.paddingRight = 0;
    scale.paddingTop = 0; scale.paddingBottom = 0;
  };
}

// frame round the plot + small inward minor ticks top and bottom
const framePlugin = {
  id: 'frame',
  beforeDatasetsDraw(chart, args, opts) {
    const { ctx, chartArea: a, scales } = chart;
    ctx.save();
    ctx.strokeStyle = frameBlue;
    ctx.lineWidth = 1;
    ctx.strokeRect(Math.round(a.left) + 0.5, Math.round(a.top) + 0.5,
      Math.round(a.right - a.left) - 1, Math.round(a.bottom - a.top) - 1);
    ctx.beginPath();
    for (let v = opts.from; v <= opts.to + 1e-9; v += opts.step) {
      const x = Math.round(scales.x.getPixelForValue(v)) + 0.5;
      ctx.moveTo(x, a.bottom); ctx.lineTo(x, a.bottom - 4);
      ctx.moveTo(x, a.top); ctx.lineTo(x, a.top + 4);
    }
    ctx.stroke();
    ctx.restore();
  }
};

function tickFont() { return { family: FONT, size: 20 }; }
function titleFont() { return { family: FONT, size: 20, lineHeight: 1.2 }; }

function pairs(ts, fs) { return ts.map((t, i) => ({ x: t, y: fs[i] })); }
const lightPoints = pairs(timeA, fluxA).concat(pairs(timeA2, fluxA2),
  pairs(timeB, fluxB), pairs(timeB2, fluxB2));

new Chart(document.getElementById('lightCurve'), {
  type: 'scatter',
  data: {
    datasets: [{
      data: lightPoints,
      pointRadius: 2.5,
      pointHoverRadius: 2.5,
      pointBorderWidth: 0,
      pointBackgroundColor: '#0000d2',
      clip: 0
    }]
  },
  options: {
    responsive: false,
    animation: false,
    devicePixelRatio: 1,
    events: [],
    layout: { padding: { left: 0, top: 13, right: 33, bottom: 0 } },
    plugins: {
      legend: { display: false },
      tooltip: { enabled: false },
      frame: { from: 2742, to: 2818, step: 2 }
    },
    scales: {
      x: {
        type: 'linear', min: 2740, max: 2820,
        afterFit: fixBox(62, true),
        ticks: {
          stepSize: 10, autoSkip: false, maxRotation: 0, padding: 0,
          color: '#000', font: tickFont(),
          callback: v => leftTimeLabels.includes(v) ? String(v) : ''
        },
        grid: { color: gridBlue, drawTicks: false },
        border: { display: false, dash: [1, 1] },
        title: { display: true, text: 'Time (days)', color: '#000', font: titleFont(), padding: { top: 0, bottom: 1 } }
      },
      y: {
        min: -30, max: 35,
        afterFit: fixBox(95, false),
        ticks: {
          stepSize: 10, includeBounds: false, padding: 11,
          color: '#000', font: tickFont(),
          callback: v => fluxTicksLeft.includes(v) ? String(v) : ''
        },
        grid: { color: gridBlue, drawTicks: false },
        border: { display: false, dash: [1, 1] },
        title: { display: true, text: 'Flux (ppt)', color: '#000', font: titleFont(), padding: { top: 11, bottom: 0 } }
      }
    }
  },
  plugins: [framePlugin]
});

new Chart(document.getElementById('dayCurve'), {
  type: 'scatter',
  data: {
    datasets: [{
      data: pairs(dayTime, dayFlux),
      showLine: true,
      tension: 0,
      borderColor: '#2a2ad8',
      borderWidth: 1.5,
      pointRadius: 3,
      pointHoverRadius: 3,
      pointBorderWidth: 1,
      pointBorderColor: '#a5a5ec',
      pointBackgroundColor: 'rgba(0,0,0,0)',
      clip: 0
    }]
  },
  options: {
    responsive: false,
    animation: false,
    devicePixelRatio: 1,
    events: [],
    layout: { padding: { left: 0, top: 24, right: 1.5, bottom: 0 } },
    plugins: {
      legend: { display: false },
      tooltip: { enabled: false },
      frame: { from: 0.1, to: 0.9, step: 0.2 }
    },
    scales: {
      x: {
        type: 'linear', min: 0, max: 1,
        afterFit: fixBox(62, true),
        ticks: {
          stepSize: 0.2, autoSkip: false, maxRotation: 0, padding: 0,
          color: '#000', font: tickFont(),
          callback: v => String(dayTimeLabels.find(d => Math.abs(d - v) < 1e-6) ?? '')
        },
        grid: { color: gridBlue, drawTicks: false },
        border: { display: false, dash: [1, 1] },
        title: { display: true, text: 'Time (days)', color: '#000', font: titleFont(), padding: { top: 0, bottom: 1 } }
      },
      y: {
        min: -30, max: 30,
        afterFit: fixBox(87, false),
        ticks: { stepSize: 10, padding: 10, color: '#000', font: tickFont() },
        grid: { color: gridBlue, drawTicks: false },
        border: { display: false, dash: [1, 1] },
        title: { display: true, text: 'Flux (ppt)', color: '#000', font: titleFont(), padding: { top: 15, bottom: 0 } }
      }
    }
  },
  plugins: [framePlugin]
});
</script>
</body>
</html>
